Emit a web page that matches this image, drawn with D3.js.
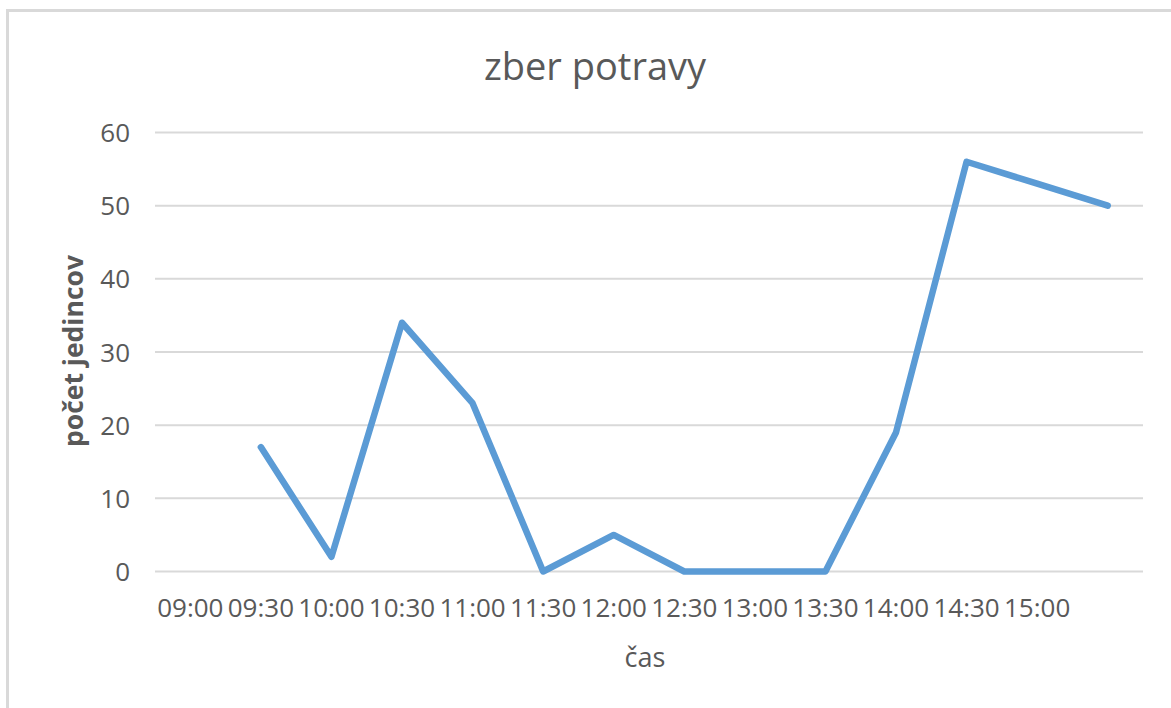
<!DOCTYPE html>
<html>
<head>
<meta charset="utf-8">
<script src="https://cdn.jsdelivr.net/npm/d3@7"></script>
<style>
  html, body { margin: 0; padding: 0; background: #fff; }
  svg { display: block; }
  text { font-family: "Open Sans", "Liberation Sans", sans-serif; }
</style>
</head>
<body>
<svg id="chart" width="1171" height="708"></svg>
<script>
const categories = ["09:00","09:30","10:00","10:30","11:00","11:30","12:00","12:30","13:00","13:30","14:00","14:30","15:00",""];
const values = [null, 17, 2, 34, 23, 0, 5, 0, 0, 0, 19, 56, 53, 50];
const yTicks = [0, 10, 20, 30, 40, 50, 60];
const chartTitle = "zber potravy";
const xTitle = "čas";
const yTitle = "počet jedincov";

const svg = d3.select("#chart");
const W = 1171, H = 708;
const plot = { left: 155, right: 1143, top: 132.5, bottom: 571.5 };

// outer frame
svg.append("rect")
  .attr("x", 7.5).attr("y", 10.5)
  .attr("width", W + 20).attr("height", H + 20)
  .attr("fill", "#fff").attr("stroke", "#d9d9d9").attr("stroke-width", 3);

const x = d3.scaleBand().domain(d3.range(categories.length)).range([plot.left, plot.right]).padding(0);
const y = d3.scaleLinear().domain([0, 60]).range([plot.bottom, plot.top]);

// gridlines
svg.append("g").selectAll("line").data(yTicks).join("line")
  .attr("x1", plot.left).attr("x2", plot.right)
  .attr("y1", d => y(d)).attr("y2", d => y(d))
  .attr("stroke", "#d9d9d9").attr("stroke-width", 2);

// y axis labels
const yAxis = d3.axisLeft(y).tickValues(yTicks).tickSize(0).tickPadding(0);
const gy = svg.append("g").attr("transform", `translate(${plot.left - 25},0)`).call(yAxis);
gy.select(".domain").remove();
gy.selectAll("text").attr("font-size", 26).attr("fill", "#595959")
  .style("font-family", '"Open Sans", sans-serif').attr("dy", "0.35em");

// x axis labels
const xAxis = d3.axisBottom(x).tickFormat(i => categories[i]).tickSize(0).tickPadding(0);
const gx = svg.append("g").attr("transform", `translate(0,${plot.bottom + 27})`).call(xAxis);
gx.select(".domain").remove();
gx.selectAll("text").attr("font-size", 26).attr("fill", "#595959")
  .style("font-family", '"Open Sans", sans-serif').attr("dy", "0.72em");

// line
const line = d3.line()
  .defined(d => d != null)
  .x((d, i) => x(i) + x.bandwidth() / 2)
  .y(d => y(d));
svg.append("path").datum(values)
  .attr("d", line)
  .attr("fill", "none")
  .attr("stroke", "#5b9bd5")
  .attr("stroke-width", 6.5)
  .attr("stroke-linejoin", "round")
  .attr("stroke-linecap", "round");

// titles
svg.append("text").text(chartTitle)
  .attr("x", 595).attr("y", 80)
  .attr("text-anchor", "middle")
  .attr("font-size", 38).attr("fill", "#595959");

svg.append("text").text(xTitle)
  .attr("x", 645).attr("y", 667)
  .attr("text-anchor", "middle")
  .attr("font-size", 27).attr("fill", "#595959");

svg.append("text").text(yTitle)
  .attr("transform", `translate(83,351) rotate(-90)`)
  .attr("text-anchor", "middle")
  .attr("font-size", 26.5).attr("font-weight", "bold").attr("fill", "#595959");
</script>
</body>
</html>
